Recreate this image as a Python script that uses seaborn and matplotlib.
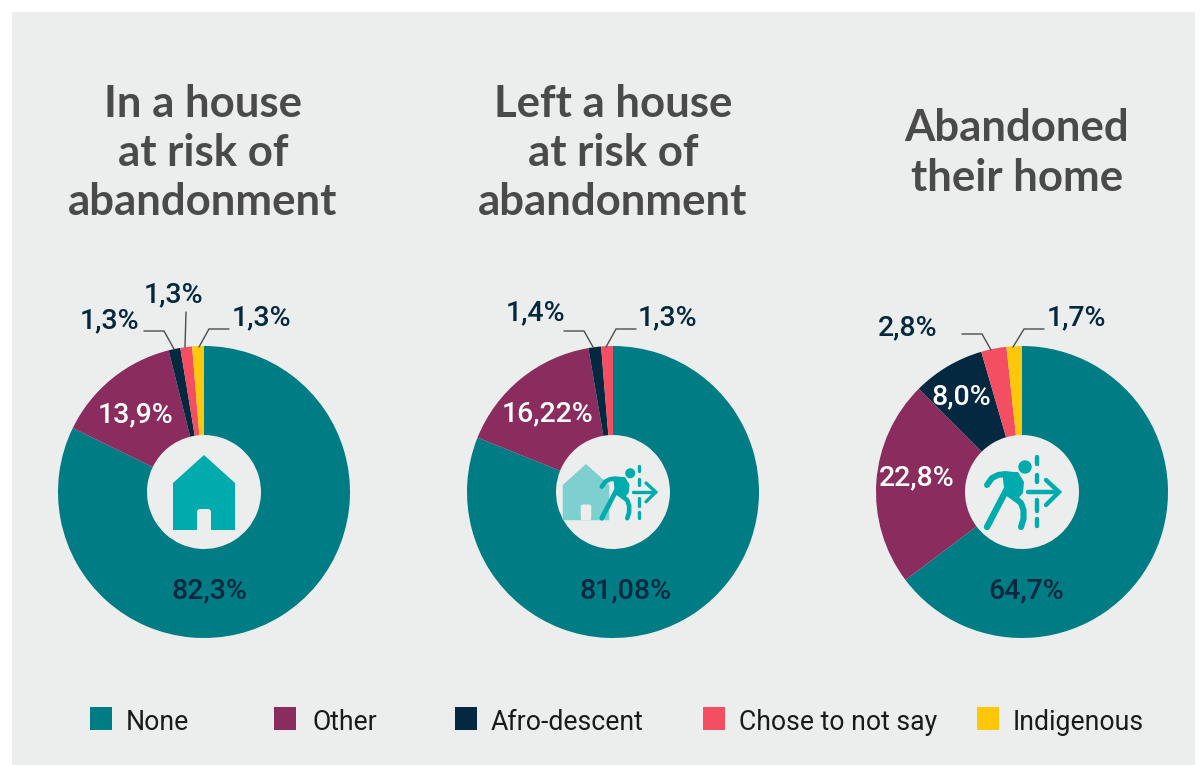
import matplotlib
matplotlib.use('Agg')
import matplotlib.pyplot as plt
from matplotlib.patches import Rectangle, Circle, Polygon, FancyBboxPatch
import seaborn as sns

W, H = 1204, 765

# Werte aus dem Bild
categories = ['None', 'Other', 'Afro-descent', 'Chose to not say', 'Indigenous']
colors = ['#007C85', '#8A2C5D', '#03283F', '#F44E62', '#FFC709']
titles = ['In a house\nat risk of\nabandonment', 'Left a house\nat risk of\nabandonment', 'Abandoned\ntheir home']
house_vals = [82.3, 13.9, 1.3, 1.3, 1.3]
left_vals = [81.08, 16.22, 1.4, 1.3]
abandoned_vals = [64.7, 22.8, 8.0, 2.8, 1.7]
house_labels = ['82,3%', '13,9%', '1,3%', '1,3%', '1,3%']
left_labels = ['81,08%', '16,22%', '1,4%', '1,3%']
abandoned_labels = ['64,7%', '22,8%', '8,0%', '2,8%', '1,7%']

sns.set_theme(style='white')
plt.rcParams['font.family'] = ['Roboto', 'DejaVu Sans']
palette = sns.color_palette(colors)
bg = '#ECEEED'
teal = '#00ABAD'
dark = '#03283F'
grey = '#4D4D4D'
title_col = '#4A4A4A'

fig = plt.figure(figsize=(W / 100, H / 100), dpi=100, facecolor='white')

# Hintergrund
back = fig.add_axes([0, 0, 1, 1], zorder=0)
back.set_xlim(0, W)
back.set_ylim(H, 0)
back.axis('off')
back.add_patch(Rectangle((12, 12), 1183, 753, color=bg, lw=0))


# Ringe
def draw_pie(cx, cy, values, cols):
    r = 146
    ax = fig.add_axes([(cx - r) / W, 1 - (cy + r) / H, 2 * r / W, 2 * r / H], zorder=1)
    ax.pie(values, colors=cols, startangle=90, counterclock=False, radius=1,
           wedgeprops=dict(width=1 - 57 / 146, lw=0))
    ax.set_xlim(-1, 1)
    ax.set_ylim(-1, 1)
    ax.axis('off')


draw_pie(204, 492, house_vals, palette)
draw_pie(613, 492, left_vals, palette[:4])
draw_pie(1022, 492, abandoned_vals, palette)

# Alles andere in Pixelkoordinaten
top = fig.add_axes([0, 0, 1, 1], zorder=2)
top.set_xlim(0, W)
top.set_ylim(H, 0)
top.axis('off')
top.patch.set_alpha(0)

for cx, cy, t in [(203, 153, titles[0]), (613, 153, titles[1]), (1017, 153, titles[2])]:
    top.text(cx, cy, t, ha='center', va='center', fontsize=31.5, color=title_col,
             family=['Lato', 'DejaVu Sans'], linespacing=1.28, fontweight='bold')


def pct(x, y, s, c=dark, size=20.5):
    top.text(x, y, s, ha='center', va='center', fontsize=size, color=c, fontweight='medium')


# Panel 1
pct(209, 591, house_labels[0])
pct(136, 415, house_labels[1], 'white')
pct(109, 321, house_labels[2])
pct(174, 295, house_labels[3])
pct(261, 318, house_labels[4])
# Panel 2
pct(626, 591, left_labels[0])
pct(548, 414, left_labels[1], 'white')
pct(536, 313, left_labels[2])
pct(667, 318, left_labels[3])
# Panel 3
pct(1026, 591, abandoned_labels[0])
pct(917, 478, abandoned_labels[1], 'white')
pct(961, 397, abandoned_labels[2], 'white')
pct(908, 328, abandoned_labels[3])
pct(1076, 318, abandoned_labels[4])

# Hinweislinien
leaders = [
    ([144, 164, 174], [331, 331, 349]),
    ([186, 185], [312, 347]),
    ([199, 209, 229], [347, 329, 329]),
    ([564, 584, 593], [331, 331, 347]),
    ([606, 616, 636], [347, 329, 329]),
    ([962, 982, 991], [334, 334, 350]),
    ([1013, 1024, 1044], [347, 329, 329]),
]
for xs, ys in leaders:
    top.plot(xs, ys, color=grey, lw=1.0, solid_joinstyle='miter')


# Icons
def house(x, y, s=1.0, color=teal):
    # x, y = Spitze des Dachs
    pts = [(x, y), (x + 31 * s, y + 28 * s), (x + 31 * s, y + 75 * s), (x - 31 * s, y + 75 * s), (x - 31 * s, y + 28 * s)]
    top.add_patch(Polygon(pts, closed=True, color=color, lw=0, zorder=3))
    top.add_patch(FancyBboxPatch((x - 4 * s, y + 57 * s), 8 * s, 14 * s, boxstyle='round,pad=%f' % (3 * s),
                                 fc=bg, ec='none', zorder=3))
    top.add_patch(Rectangle((x - 7 * s, y + 64 * s), 14 * s, 11 * s, color=bg, lw=0, zorder=3))


def person(x, y, s=1.0):
    # x, y = Mitte des Icons (auf Hoehe des Pfeils)
    def px(vals):
        return [x + v * s for v in vals]

    def py(vals):
        return [y + v * s for v in vals]

    top.add_patch(Circle((x + 3 * s, y - 25 * s), 6.7 * s, color=teal, lw=0, zorder=5))
    # Arm
    top.plot(px([-35, -30, -24, -17, -8]), py([-7, -14, -17, -18, -17]), color=teal, lw=4.3 * s,
             solid_capstyle='round', solid_joinstyle='round', zorder=5)
    # Oberkoerper
    body = list(zip(px([-20, -4, 2, 1, -7, -17]), py([-20, -20, -10, 1, 10, 3])))
    top.add_patch(Polygon(body, closed=True, color=teal, lw=0, zorder=5))
    # Beine
    top.plot(px([-12, -35]), py([-9, 35]), color=teal, lw=4.6 * s, solid_capstyle='round', zorder=5)
    top.plot(px([-7, -1, 1.5, 1.5, -1]), py([6, 11, 18, 27, 35]), color=teal, lw=4.4 * s,
             solid_capstyle='round', solid_joinstyle='round', zorder=5)
    # gestrichelte Linie
    for y0, y1 in [(-35, -28), (-17, -10), (8, 19), (27, 34)]:
        top.plot(px([15, 15]), py([y0, y1]), color=teal, lw=3.2 * s, solid_capstyle='round', zorder=5)
    # Pfeil
    top.plot(px([6, 36]), py([0, 0]), color=teal, lw=3.2 * s, solid_capstyle='round', zorder=6)
    top.plot(px([24, 37, 24]), py([-12, 0, 13]), color=teal, lw=3.2 * s, solid_capstyle='round',
             solid_joinstyle='miter', zorder=6)


house(204, 455)
house(586, 464, 0.75, color='#7DCFD0')
person(628, 492, 0.75)
person(1022, 492, 1.0)

# Legende
leg = [(90, 126), (274, 313), (455, 491), (703, 739), (977, 1013)]
for (bx, tx), lab, c in zip(leg, categories, palette):
    top.add_patch(Rectangle((bx, 707), 22, 23, color=c, lw=0))
    top.text(tx, 723, lab, ha='left', va='center', fontsize=19.2, color='#1A1A1A')

plt.savefig('out.png', dpi=100, facecolor='white')
plt.close()
